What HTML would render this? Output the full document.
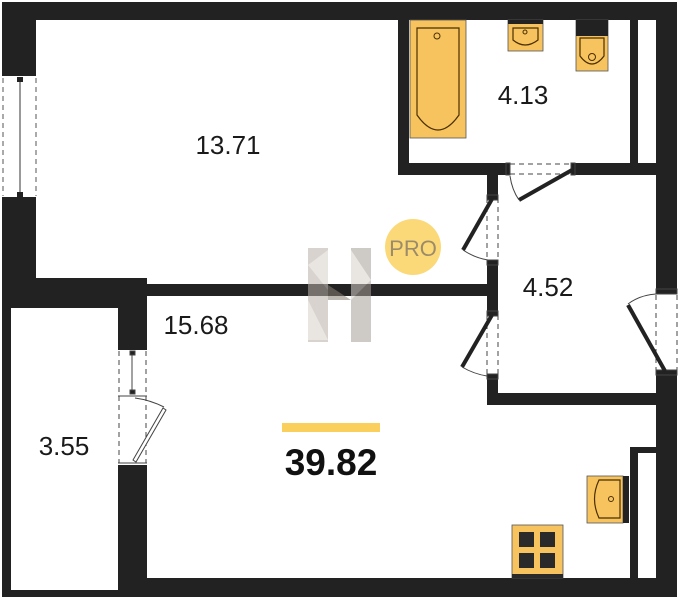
<!DOCTYPE html>
<html><head><meta charset="utf-8"><style>
html,body{margin:0;padding:0;background:#fff;width:680px;height:600px;overflow:hidden}
svg{display:block}
text{font-family:"Liberation Sans",sans-serif;fill:#1a1a1a}
</style></head><body>
<svg width="680" height="600" viewBox="0 0 680 600" xmlns="http://www.w3.org/2000/svg">
<g fill="#222">
<rect x="2" y="2" width="675" height="18"/>
<rect x="2" y="2" width="34" height="72"/>
<rect x="2" y="199" width="34" height="99"/>
<rect x="2" y="278" width="145" height="30"/>
<rect x="146" y="284" width="350" height="12"/>
<rect x="2" y="298" width="9" height="299"/>
<rect x="2" y="590" width="145" height="7"/>
<rect x="118" y="298" width="29" height="50"/>
<rect x="118" y="465" width="29" height="132"/>
<rect x="118" y="578" width="559" height="19"/>
<rect x="656" y="2" width="21" height="288"/>
<rect x="656" y="373" width="21" height="224"/>
<rect x="398" y="2" width="11" height="173"/>
<rect x="630" y="2" width="8" height="173"/>
<rect x="398" y="163" width="109" height="12"/>
<rect x="575" y="163" width="85" height="12"/>
<rect x="487" y="163" width="11" height="32"/>
<rect x="487" y="262" width="11" height="50"/>
<rect x="487" y="377" width="11" height="28"/>
<rect x="487" y="393" width="170" height="12"/>
<rect x="630" y="447" width="8" height="133"/>
<rect x="630" y="447" width="28" height="6"/>
</g>
<g>
<rect x="2" y="73" width="34" height="3" fill="#222"/>
<rect x="2" y="197" width="34" height="3" fill="#222"/>
<line x1="3" y1="78" x2="3" y2="196" stroke="#555" stroke-dasharray="5,4"/>
<line x1="36" y1="78" x2="36" y2="196" stroke="#555" stroke-dasharray="5,4"/>
<line x1="20" y1="80" x2="20" y2="194" stroke="#333"/>
<rect x="17" y="77" width="6" height="5" fill="#222"/>
<rect x="17" y="192" width="6" height="5" fill="#222"/>
</g>
<g stroke="#444" fill="none">
<rect x="118" y="347" width="29" height="3" fill="#222" stroke="none"/>
<line x1="119" y1="351" x2="119" y2="463" stroke-dasharray="5,4"/>
<line x1="146" y1="351" x2="146" y2="463" stroke-dasharray="5,4"/>
<line x1="132" y1="352" x2="132" y2="393"/>
<rect x="130" y="351" width="5" height="4" fill="#222"/>
<rect x="130" y="390" width="5" height="4" fill="#222"/>
<line x1="118" y1="396" x2="147" y2="396"/>
<line x1="118" y1="463" x2="147" y2="463"/>
<path d="M135 398 Q150 400 164 407" />
<path d="M133 460 L163 408 L166 410 L136 462 Z" fill="#fff"/>
</g>
<g stroke="#444" fill="none">
<line x1="510" y1="164" x2="572" y2="164" stroke-dasharray="5,4"/>
<line x1="510" y1="174" x2="572" y2="174" stroke-dasharray="5,4"/>
<rect x="506" y="163" width="4" height="12" fill="#222"/>
<rect x="571" y="163" width="4" height="12" fill="#222"/>
<line x1="572" y1="170" x2="519" y2="200" stroke="#222" stroke-width="4"/>
<path d="M510 176 Q512 190 519 200"/>
</g>
<g stroke="#444" fill="none">
<line x1="487" y1="198" x2="487" y2="260" stroke-dasharray="5,4"/>
<line x1="498" y1="198" x2="498" y2="260" stroke-dasharray="5,4"/>
<rect x="487" y="195" width="11" height="5" fill="#222"/>
<rect x="487" y="260" width="11" height="5" fill="#222"/>
<line x1="492" y1="199" x2="463" y2="250" stroke="#222" stroke-width="4"/>
<path d="M463 250 Q475 258 488 260"/>
<line x1="487" y1="315" x2="487" y2="375" stroke-dasharray="5,4"/>
<line x1="498" y1="315" x2="498" y2="375" stroke-dasharray="5,4"/>
<rect x="487" y="311" width="11" height="5" fill="#222"/>
<rect x="487" y="374" width="11" height="5" fill="#222"/>
<line x1="492" y1="315" x2="462" y2="367" stroke="#222" stroke-width="4"/>
<path d="M462 367 Q474 374 487 376"/>
<line x1="656" y1="295" x2="656" y2="370" stroke-dasharray="5,4"/>
<line x1="677" y1="295" x2="677" y2="370" stroke-dasharray="5,4"/>
<rect x="656" y="289" width="21" height="5" fill="#222"/>
<rect x="656" y="370" width="21" height="5" fill="#222"/>
<line x1="665" y1="371" x2="628" y2="305" stroke="#222" stroke-width="4"/>
<path d="M628 304 Q640 295 656 294"/>
</g>
<rect x="410" y="20" width="56" height="118" fill="#f7c35f" stroke="#555" stroke-width="0.8"/>
<path d="M417 28 H459 V115 Q438 145 417 115 Z" fill="none" stroke="#4a2f00" stroke-width="1.2"/>
<circle cx="437" cy="36" r="3" fill="none" stroke="#4a2f00"/>
<rect x="508" y="20" width="35" height="31" fill="#f7c35f" stroke="#555" stroke-width="0.8"/>
<rect x="508" y="20" width="35" height="4" fill="#222"/>
<path d="M513 28 H538 V40 Q525 50 513 40 Z" fill="none" stroke="#4a2f00" stroke-width="1.2"/>
<circle cx="525" cy="32" r="2" fill="none" stroke="#4a2f00"/>
<rect x="576" y="20" width="32" height="51" fill="#f7c35f" stroke="#555" stroke-width="0.8"/>
<rect x="576" y="20" width="32" height="16" fill="#222"/>
<path d="M580 38 H604 V56 Q592 72 580 56 Z" fill="none" stroke="#4a2f00" stroke-width="1.2"/>
<circle cx="592" cy="57" r="3.5" fill="none" stroke="#4a2f00"/>
<rect x="587" y="476" width="36" height="47" fill="#f7c35f" stroke="#555" stroke-width="0.8"/>
<rect x="623" y="476" width="6" height="47" fill="#222"/>
<path d="M620 480 H599 Q590 499 599 518 H620 Z" fill="none" stroke="#4a2f00" stroke-width="1.2"/>
<circle cx="611" cy="499" r="2.5" fill="none" stroke="#4a2f00"/>
<rect x="512" y="525" width="51" height="53" fill="#f7c35f" stroke="#555" stroke-width="0.8"/>
<g fill="#2a2a2a">
<rect x="519" y="532" width="15" height="15"/><rect x="540" y="532" width="15" height="15"/>
<rect x="519" y="553" width="15" height="15"/><rect x="540" y="553" width="15" height="15"/>
<rect x="512" y="574" width="51" height="4"/>
</g>
<g opacity="0.55">
<rect x="308" y="248" width="20" height="94" fill="#b9b0a8"/>
<rect x="351" y="248" width="20" height="94" fill="#a79f97"/>
<polygon points="308,265 328,250 328,290" fill="#d8d2cc"/>
<polygon points="351,250 371,280 351,300" fill="#d8d2cc"/>
<polygon points="308,300 328,340 308,340" fill="#d8d2cc"/>
<polygon points="328,285 351,300 328,300" fill="#8a7f75"/>
</g>
<circle cx="413" cy="247" r="28" fill="#fbd978"/>
<text x="413" y="256" font-size="22" text-anchor="middle" style="fill:#9c8b6a">PRO</text>
<text x="228" y="154" font-size="26" text-anchor="middle">13.71</text>
<text x="523" y="104" font-size="26" text-anchor="middle">4.13</text>
<text x="548" y="296" font-size="26" text-anchor="middle">4.52</text>
<text x="196" y="334" font-size="26" text-anchor="middle">15.68</text>
<text x="64" y="455" font-size="26" text-anchor="middle">3.55</text>
<rect x="282" y="423" width="98" height="9" fill="#fbcf5c"/>
<text x="331" y="475" font-size="37" font-weight="bold" text-anchor="middle" style="fill:#111">39.82</text>
</svg>
</body></html>
